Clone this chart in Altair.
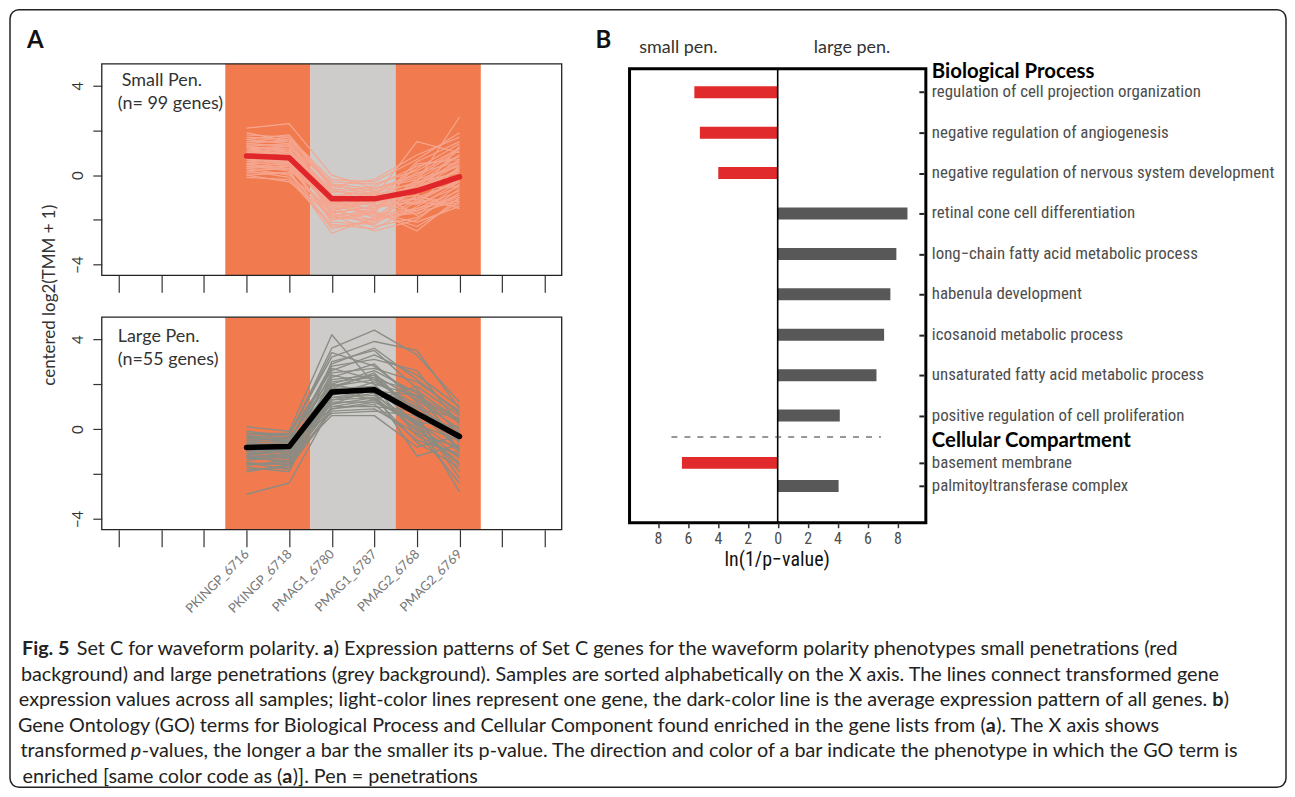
import json
import altair as alt
import pandas as pd

# ======================= DATA =======================
# ---- Panel A: samples (x axis) ----
samples = ["PKINGP_6716", "PKINGP_6718", "PMAG1_6780", "PMAG1_6787", "PMAG2_6768", "PMAG2_6769"]
sample_group = ["PKINGP", "PKINGP", "PMAG1", "PMAG1", "PMAG2", "PMAG2"]
groups = ["PKINGP", "PMAG1", "PMAG2"]
group_pheno = ["small", "large", "small"]

# ---- Panel A top: Small Pen. (n = 99 genes) ----
small_title = ["Small Pen.", "(n= 99 genes)"]
small_mean = [0.86, 0.78, -1.06, -1.06, -0.70, -0.08]
small_genes = [
    [2.1, 2.3, 0.0, -0.6, -0.2, 0.4],
    [1.7, 1.6, -0.3, -0.4, 0.2, 1.2],
    [1.6, 1.8, -0.5, -0.7, -0.4, 0.9],
    [1.5, 1.5, -0.9, -1.0, 1.5, 1.0],
    [1.4, 1.3, -0.7, -0.9, -0.3, 2.6],
    [1.3, 1.4, -1.2, -1.3, 0.6, 1.5],
    [1.3, 1.0, -0.8, -0.5, 0.4, 0.8],
    [1.2, 1.2, -1.4, -1.2, -0.9, 1.3],
    [1.1, 0.9, -1.0, -1.4, -0.6, 0.5],
    [1.1, 1.1, -1.6, -1.0, -1.1, -0.2],
    [1.0, 0.8, -1.1, -1.6, -0.2, 0.9],
    [1.0, 1.0, -0.9, -0.8, -1.3, -0.5],
    [0.9, 0.7, -1.3, -1.1, -0.5, 0.2],
    [0.9, 1.0, -1.8, -1.7, 0.5, 0.7],
    [0.8, 0.6, -1.2, -0.9, -0.8, 0.0],
    [0.8, 0.9, -0.6, -1.3, -1.6, -0.9],
    [0.7, 0.5, -1.5, -1.2, -0.4, 0.6],
    [0.7, 0.8, -1.0, -1.9, -1.0, -1.2],
    [0.6, 0.4, -1.9, -1.5, -0.7, 0.3],
    [0.6, 0.7, -1.3, -0.7, -1.8, -0.4],
    [0.5, 0.3, -1.7, -1.4, -1.2, -1.4],
    [0.5, 0.6, -2.1, -2.2, -0.3, 0.1],
    [0.4, 0.2, -1.1, -1.8, -1.5, -0.7],
    [0.3, 0.4, -2.0, -1.6, -2.5, -1.0],
    [0.3, 0.0, -1.6, -2.0, -0.9, -1.5],
    [0.2, -0.1, -2.2, -2.4, -1.4, -0.3],
    [0.1, 0.1, -2.6, -1.9, -1.7, -1.1],
    [0.0, -0.3, -1.8, -2.5, -2.0, -0.6],
    [-0.1, -0.2, -2.3, -2.1, -1.1, -1.3],
    [1.8, 1.7, -0.2, -0.3, 0.7, 1.9],
    [1.2, 1.3, -0.4, -0.6, -0.1, 1.1],
    [0.4, 0.5, -1.4, -2.3, -1.9, -0.8],
    [1.5, 1.7, -0.6, -0.8, 0.1, 0.6],
    [1.0, 1.2, -1.3, -1.5, -1.0, -0.3],
    [0.6, 0.9, -1.6, -1.2, -1.3, 0.4],
    [1.3, 1.1, -0.9, -1.1, -0.6, 0.2],
    [0.8, 0.5, -1.9, -2.0, -1.5, -1.0],
    [1.6, 1.4, -1.1, -0.9, 0.3, 1.4],
    [0.2, 0.3, -1.7, -2.2, -1.2, -0.2],
    [0.9, 1.1, -0.7, -1.0, -0.8, 0.3],
    [1.4, 1.6, -0.4, -0.9, -0.5, 0.7],
    [0.5, 0.2, -2.4, -2.0, -1.6, -0.9],
    [1.1, 1.3, -1.0, -0.6, 0.0, 1.2],
    [0.7, 0.6, -1.4, -1.7, -2.1, -1.4],
    [1.2, 0.9, -1.7, -1.4, -0.4, 0.5],
    [0.3, 0.6, -1.2, -1.9, -0.6, -0.5],
    [1.9, 1.5, -0.5, -0.2, 0.9, 1.7],
    [0.0, 0.1, -2.0, -1.7, -2.3, -1.2],
]

# ---- Panel A bottom: Large Pen. (n = 55 genes) ----
large_title = ["Large Pen.", "(n=55 genes)"]
large_mean = [-0.82, -0.78, 1.65, 1.75, 0.70, -0.33]
large_genes = [
    [-2.9, -2.4, 1.0, 1.3, 0.2, -0.5],
    [0.1, -0.1, 4.2, 2.0, 1.5, 0.4],
    [-0.2, -0.3, 3.6, 4.4, 3.3, 1.2],
    [-0.4, -0.2, 3.2, 3.9, 3.5, 0.9],
    [-1.5, -1.6, 3.0, 3.5, 1.8, -1.0],
    [-0.6, -0.5, 2.8, 3.1, 2.6, 0.2],
    [-1.0, -0.9, 2.5, 2.7, 2.1, 0.8],
    [-0.3, -0.4, 2.3, 2.9, 1.2, -0.6],
    [-1.2, -1.3, 2.2, 2.4, 0.5, -1.9],
    [-0.8, -0.7, 2.0, 2.6, 1.6, -0.2],
    [-1.7, -1.9, 1.9, 2.2, 0.9, 0.5],
    [-0.5, -0.6, 1.8, 1.9, -0.3, -1.2],
    [-1.1, -1.0, 1.6, 1.7, 0.7, -0.4],
    [-0.7, -0.8, 1.5, 2.1, 1.1, -0.9],
    [-1.4, -1.2, 1.4, 1.5, 0.3, 0.1],
    [-0.9, -1.1, 1.3, 1.6, -1.2, -0.7],
    [-1.6, -1.5, 1.2, 1.2, 0.4, -2.8],
    [-0.6, -0.9, 1.1, 1.4, 0.0, -1.5],
    [-1.3, -1.4, 1.0, 1.0, 0.8, -0.1],
    [-0.4, -0.5, 0.9, 1.1, -0.5, -1.1],
    [-1.8, -1.7, 0.8, 0.9, -0.2, -0.8],
    [-1.0, -0.6, 0.7, 0.8, 0.6, -2.2],
    [-0.2, -0.2, 2.6, 3.3, 2.4, 1.0],
    [-1.1, -1.3, 0.6, 0.6, -0.8, -0.3],
    [-0.8, -1.0, 1.7, 1.3, 1.9, 0.6],
    [-1.5, -1.8, 2.4, 2.0, 0.1, -1.6],
    [-0.1, -0.3, 3.4, 2.8, 1.4, 0.3],
    [-1.2, -0.8, 1.1, 1.8, 1.0, -0.5],
    [-1.0, -1.2, 1.9, 2.4, 1.3, 0.0],
    [-0.5, -0.4, 2.1, 2.3, 0.8, -0.9],
    [-1.3, -1.1, 1.5, 1.9, 0.2, -1.3],
    [-0.7, -0.6, 2.7, 2.2, 1.7, 0.4],
    [-1.6, -1.4, 1.3, 1.4, -0.6, -1.7],
    [-0.9, -1.0, 1.8, 2.5, 0.6, -0.2],
    [-0.3, -0.6, 2.9, 3.6, 2.2, 0.7],
    [-1.9, -1.6, 0.9, 1.2, 0.3, -1.0],
    [-0.6, -0.8, 1.4, 1.7, 1.5, -0.6],
    [-1.2, -1.5, 2.0, 1.6, -0.1, -2.4],
]

# ---- Panel B: GO terms, ln(1/p-value), phenotype ----
bp_header = "Biological Process"
bp_terms = [
    "regulation of cell projection organization",
    "negative regulation of angiogenesis",
    "negative regulation of nervous system development",
    "retinal cone cell differentiation",
    "long\u2212chain fatty acid metabolic process",
    "habenula development",
    "icosanoid metabolic process",
    "unsaturated fatty acid metabolic process",
    "positive regulation of cell proliferation",
]
bp_pheno = ["small", "small", "small", "large", "large", "large", "large", "large", "large"]
bp_score = [5.57, 5.2, 3.97, 8.67, 7.93, 7.53, 7.11, 6.6, 4.15]

cc_header = "Cellular Compartment"
cc_terms = ["basement membrane", "palmitoyltransferase complex"]
cc_pheno = ["small", "large"]
cc_score = [6.4, 4.07]

b_side_labels = ["small pen.", "large pen."]
b_xtitle = "ln(1/p\u2212value)"
a_ytitle = "centered log2(TMM + 1)"

# ---- caption (text segments per line) ----
caption_segments = [
    # (line, style, text)
    (0, "bold", "Fig. 5"),
    (0, "normal", "Set C for waveform polarity."),
    (0, "bold", "a"),
    (0, "normal", ") Expression patterns of Set C genes for the waveform polarity phenotypes small penetrations (red"),
    (1, "normal", "background) and large penetrations (grey background). Samples are sorted alphabetically on the X axis. The lines connect transformed gene"),
    (2, "normal", "expression values across all samples; light-color lines represent one gene, the dark-color line is the average expression pattern of all genes."),
    (2, "bold", "b"),
    (2, "normal", ")"),
    (3, "normal", "Gene Ontology (GO) terms for Biological Process and Cellular Component found enriched in the gene lists from ("),
    (3, "bold", "a"),
    (3, "normal", "). The X axis shows"),
    (4, "normal", "transformed"),
    (4, "italic", "p"),
    (4, "normal", "-values, the longer a bar the smaller its p-value. The direction and color of a bar indicate the phenotype in which the GO term is"),
    (5, "normal", "enriched [same color code as ("),
    (5, "bold", "a"),
    (5, "normal", ")]. Pen = penetrations"),
]

# ======================= LAYOUT (pixels, view coords) =======================
W, H = 1279, 781
# anchor x and alignment of each caption segment (same order as caption_segments)
caption_x = [14, 69, 316, 326.5, 13, 1202, 1207, 1218.5, 980, 980, 990.5, 119, 123, 134,
             275, 275, 285.5]
caption_align = ["left", "left", "left", "left", "left", "right", "left", "left", "right", "left", "left",
                 "right", "left", "left", "right", "left", "left"]
caption_line_y = [642, 667.5, 693, 718.5, 744, 769.5]
CAP_FONT = "Lato"
CAP_SIZE = 19.8

N_SLOTS, FIRST_SLOT = 11, 4
A_XDOM, A_XRANGE = [0.6, 11.4], [94, 555]
A_YDOM = [-4.48, 4.98]
TOP_YRANGE, BOT_YRANGE = [267, 55], [522, 309]

B_XDOM, B_XRANGE = [-9.9, 9.9], [623, 920]
B_YDOM, B_YRANGE = [0.42, 11.65], [60, 515]
BP_ROWS = [1, 2, 3, 4, 5, 6, 7, 8, 9]
CC_ROWS = [10.17, 10.74]
HEADER_ROWS = [0.49, 9.63]
SEP_ROW, SEP_X = 9.53, [-7.1, 6.9]

NARROW = "Liberation Sans Narrow, Roboto Condensed, DejaVu Sans Condensed, Roboto, sans-serif"

ORANGE, GREY_BG = "#F17B4F", "#CDCCCA"
RED, DARK = "#E02A2B", "#585858"

layers = []

# ======================= PANEL A =======================
slots = [FIRST_SLOT + i for i in range(len(samples))]
band_rows = []
for g, ph in zip(groups, group_pheno):
    idx = [slots[i] for i, sg in enumerate(sample_group) if sg == g]
    band_rows.append({"x0": min(idx) - 0.5, "x1": max(idx) + 0.5, "pheno": ph,
                      "y0": A_YDOM[0], "y1": A_YDOM[1]})
band_df = pd.DataFrame(band_rows)
slot_names = [""] * N_SLOTS
for s, n in zip(slots, samples):
    slot_names[s - 1] = n
label_expr = json.dumps(slot_names) + "[datum.value - 1]"


def panel_a(genes, mean, gene_col, gene_w, mean_col, yrange, show_labels):
    xs = alt.Scale(domain=A_XDOM, range=A_XRANGE, nice=False, zero=False)
    ys = alt.Scale(domain=A_YDOM, range=yrange, nice=False, zero=False)
    xaxis = alt.Axis(orient="bottom", offset=yrange[0] - H, values=list(range(1, N_SLOTS + 1)),
                     domain=False, grid=False, tickSize=17, tickColor="#333", tickWidth=1.2,
                     labels=show_labels, labelExpr=label_expr, labelAngle=315, labelAlign="right",
                     labelBaseline="middle", labelPadding=5, labelFontSize=13, labelColor="#777",
                     labelFont="Lato", labelOverlap=False, labelFlush=False, labelBound=False,
                     title=None, zindex=2)
    yaxis = alt.Axis(orient="left", offset=-A_XRANGE[0], values=[-4, -2, 0, 2, 4], domain=False,
                     grid=False, tickSize=9, tickColor="#333", tickWidth=1.2, labelAngle=270,
                     labelAlign="center", labelBaseline="bottom", labelPadding=7,
                     labelExpr="datum.value % 4 == 0 ? datum.label : ''", labelFontSize=15,
                     labelColor="#333", labelFont="Lato", labelOverlap=False, labelFlush=False,
                     labelBound=False, title=None, zindex=2)
    out = []
    out.append(alt.Chart(band_df).mark_rect().encode(
        x=alt.X("x0:Q", scale=xs, axis=xaxis), x2="x1:Q",
        y=alt.Y("y0:Q", scale=ys, axis=yaxis), y2="y1:Q",
        color=alt.Color("pheno:N", scale=alt.Scale(domain=["small", "large"], range=[ORANGE, GREY_BG]),
                        legend=None),
    ))
    gdf = pd.DataFrame([{"gene": gi, "slot": slots[j], "value": v}
                        for gi, row in enumerate(genes) for j, v in enumerate(row)])
    out.append(alt.Chart(gdf).mark_line(color=gene_col, strokeWidth=gene_w, strokeJoin="round").encode(
        x=alt.X("slot:Q", scale=xs, axis=None), y=alt.Y("value:Q", scale=ys, axis=None),
        detail="gene:N"))
    mdf = pd.DataFrame({"slot": slots, "value": mean})
    out.append(alt.Chart(mdf).mark_line(color=mean_col, strokeWidth=5.5, strokeCap="round",
                                        strokeJoin="round").encode(
        x=alt.X("slot:Q", scale=xs, axis=None), y=alt.Y("value:Q", scale=ys, axis=None)))
    fdf = pd.DataFrame({"x0": [A_XDOM[0]], "x1": [A_XDOM[1]], "y0": [A_YDOM[0]], "y1": [A_YDOM[1]]})
    out.append(alt.Chart(fdf).mark_rect(fillOpacity=0, stroke="#222", strokeWidth=1.3).encode(
        x=alt.X("x0:Q", scale=xs, axis=None), x2="x1:Q",
        y=alt.Y("y0:Q", scale=ys, axis=None), y2="y1:Q"))
    return out


layers += panel_a(small_genes, small_mean, "#F5A690", 1.2, "#E0262A", TOP_YRANGE, False)
layers += panel_a(large_genes, large_mean, "#8B8C84", 1.4, "#000000", BOT_YRANGE, True)

# ======================= PANEL B =======================
bx = alt.Scale(domain=B_XDOM, range=B_XRANGE, nice=False, zero=False)
by = alt.Scale(domain=B_YDOM, range=B_YRANGE, nice=False, zero=False)
terms = bp_terms + cc_terms
phen = bp_pheno + cc_pheno
score = bp_score + cc_score
rows = BP_ROWS + CC_ROWS
bdf = pd.DataFrame({"term": terms, "pheno": phen, "score": score, "row": rows})
bdf["signed"] = [-s if p == "small" else s for s, p in zip(bdf["score"], bdf["pheno"])]
bdf["zero"] = 0.0

bx_axis = alt.Axis(orient="bottom", offset=B_YRANGE[1] - H, values=[-8, -6, -4, -2, 0, 2, 4, 6, 8],
                   domain=False, grid=False, tickSize=5, tickColor="#333", tickWidth=1.5,
                   labelExpr="abs(datum.value)", labelFontSize=16, labelColor="#4d4d4d",
                   labelFont=NARROW, labelPadding=3, labelOverlap=False, labelFlush=False,
                   labelBound=False, title=None, zindex=2)
by_axis = alt.Axis(orient="right", offset=913 - W, values=rows, domain=False, grid=False,
                   tickSize=5, tickColor="#222", tickWidth=2, labels=False, title=None, zindex=2)

layers.append(alt.Chart(bdf).mark_rule(strokeWidth=12).encode(
    x=alt.X("zero:Q", scale=bx, axis=bx_axis), x2="signed:Q",
    y=alt.Y("row:Q", scale=by, axis=by_axis),
    color=alt.Color("pheno:N", scale=alt.Scale(domain=["small", "large"], range=[RED, DARK]), legend=None),
))
zdf = pd.DataFrame({"x": [0.0], "y0": [B_YDOM[0]], "y1": [B_YDOM[1]]})
layers.append(alt.Chart(zdf).mark_rule(color="#000", strokeWidth=1.6).encode(
    x=alt.X("x:Q", scale=bx, axis=None), y=alt.Y("y0:Q", scale=by, axis=None), y2="y1:Q"))
sdf = pd.DataFrame({"x0": [SEP_X[0]], "x1": [SEP_X[1]], "y": [SEP_ROW]})
layers.append(alt.Chart(sdf).mark_rule(color="#333", strokeWidth=1.2, strokeDash=[6, 7]).encode(
    x=alt.X("x0:Q", scale=bx, axis=None), x2="x1:Q", y=alt.Y("y:Q", scale=by, axis=None)))
bfdf = pd.DataFrame({"x0": [B_XDOM[0]], "x1": [B_XDOM[1]], "y0": [B_YDOM[0]], "y1": [B_YDOM[1]]})
layers.append(alt.Chart(bfdf).mark_rect(fillOpacity=0, stroke="#000", strokeWidth=3).encode(
    x=alt.X("x0:Q", scale=bx, axis=None), x2="x1:Q",
    y=alt.Y("y0:Q", scale=by, axis=None), y2="y1:Q"))
layers.append(alt.Chart(bdf).mark_text(align="left", baseline="middle", font=NARROW, fontSize=16.9,
                                       color="#4d4d4d").encode(
    x=alt.value(926), y=alt.Y("row:Q", scale=by, axis=None), text="term:N"))
hdf = pd.DataFrame({"t": [bp_header, cc_header], "row": HEADER_ROWS})
layers.append(alt.Chart(hdf).mark_text(align="left", baseline="middle", font="Lato", fontWeight="bold",
                                       fontSize=20.4, color="#000").encode(
    x=alt.value(926), y=alt.Y("row:Q", scale=by, axis=None), text="t:N"))

# ======================= DECOR / TEXT =======================
layers.append(alt.Chart(pd.DataFrame({"k": [0]})).mark_rect(
    fillOpacity=0, stroke="#222", strokeWidth=1.5, cornerRadius=9).encode(
    x=alt.value(2), x2=alt.value(1281), y=alt.value(0.75), y2=alt.value(780.2)))


def txt(df, **kw):
    return alt.Chart(df).mark_text(**kw).encode(
        x=alt.X("x:Q", scale=None, axis=None), y=alt.Y("y:Q", scale=None, axis=None), text="t:N")


layers.append(txt(pd.DataFrame({"t": ["A", "B"], "x": [19, 589], "y": [39, 39]}),
                  align="left", baseline="alphabetic", font="Lato", fontWeight="bold", fontSize=24,
                  color="#111"))
layers.append(txt(pd.DataFrame({"t": small_title + large_title,
                                "x": [114, 110, 110, 110], "y": [72, 95, 329, 352]}),
                  align="left", baseline="middle", font="Lato", fontSize=18, color="#333"))
layers.append(txt(pd.DataFrame({"t": [a_ytitle], "x": [42], "y": [287]}),
                  align="center", baseline="middle", font="Lato", fontSize=17, color="#333", angle=270))
layers.append(txt(pd.DataFrame({"t": b_side_labels, "x": [672, 846], "y": [39, 39]}),
                  align="center", baseline="middle", font="Lato", fontSize=18, color="#333"))
layers.append(txt(pd.DataFrame({"t": [b_xtitle], "x": [771], "y": [552]}),
                  align="center", baseline="middle", font=NARROW, fontSize=20, color="#111"))

cap_df = pd.DataFrame([{"t": t, "x": caption_x[i], "y": caption_line_y[ln], "style": st,
                        "align": caption_align[i]}
                       for i, (ln, st, t) in enumerate(caption_segments)])
for (st, al), sub in cap_df.groupby(["style", "align"]):
    kw = dict(align=al, baseline="middle", font=CAP_FONT, fontSize=CAP_SIZE, color="#222")
    if st == "bold":
        kw["fontWeight"] = "bold"
    if st == "italic":
        kw["fontStyle"] = "italic"
    layers.append(txt(sub.reset_index(drop=True), **kw))

chart = alt.layer(*layers).resolve_scale(
    x="independent", y="independent", color="independent"
).properties(width=W, height=H, padding=0, background="white").configure_view(strokeWidth=0)

chart.save("out.html", embed_options={"renderer": "svg", "actions": False})
